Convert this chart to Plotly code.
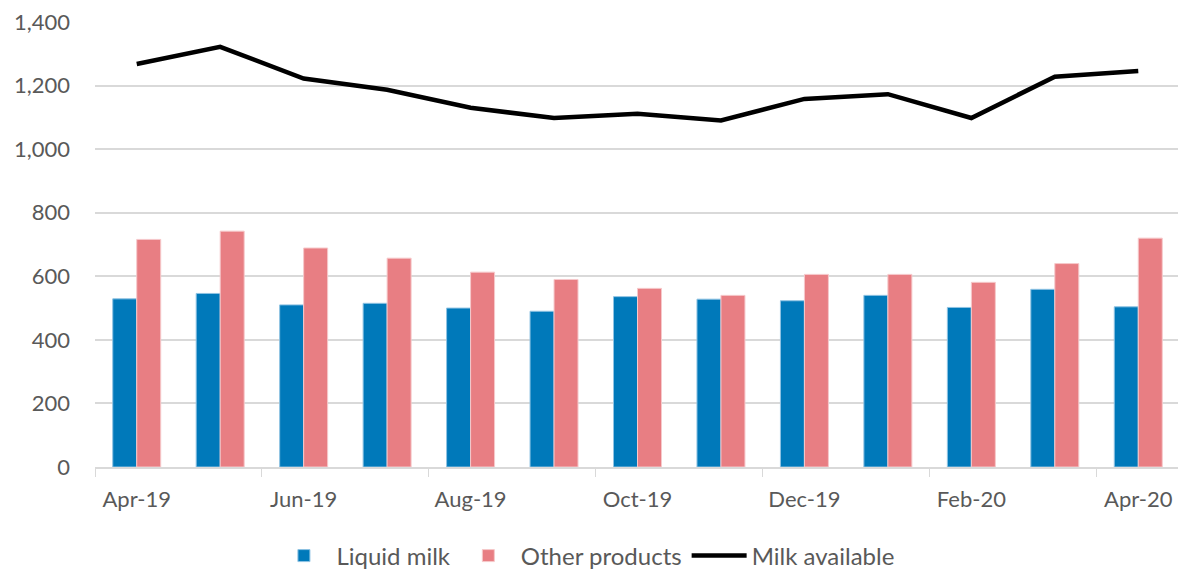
import plotly.graph_objects as go

months = ["Apr-19", "May-19", "Jun-19", "Jul-19", "Aug-19", "Sep-19", "Oct-19",
          "Nov-19", "Dec-19", "Jan-20", "Feb-20", "Mar-20", "Apr-20"]
liquid_milk = [529, 546, 510, 515, 500, 490, 536, 528, 523, 540, 502, 559, 504]
other_products = [716, 742, 689, 657, 613, 590, 562, 540, 606, 606, 581, 640, 720]
milk_available = [1268, 1322, 1222, 1187, 1130, 1098, 1111, 1090, 1158, 1173, 1098, 1228, 1246]

FONT = "Lato, 'Open Sans', sans-serif"
GREY = "#595959"
FS = 22

fig = go.Figure()
fig.add_trace(go.Bar(x=months, y=liquid_milk, name="Liquid milk",
                     marker=dict(color="#0079BA", line=dict(color="#8fc3e3", width=1))))
fig.add_trace(go.Bar(x=months, y=other_products, name="Other products",
                     marker=dict(color="#E87E83", line=dict(color="#f6c9cb", width=1))))
fig.add_trace(go.Scatter(x=months, y=milk_available, name="Milk available", mode="lines",
                         line=dict(color="black", width=4.5)))

# page has an 8px body margin, so the figure is sized to the visible area
fig.update_layout(
    width=1178, height=563,
    margin=dict(l=87, r=6, t=14, b=104, autoexpand=False),
    plot_bgcolor="white", paper_bgcolor="white",
    barmode="group", bargap=0.425, bargroupgap=0,
    font=dict(family=FONT, size=FS, color=GREY),
    legend=dict(orientation="h", x=0.452, xanchor="center", y=-0.2, yanchor="middle",
                font=dict(family=FONT, size=24, color=GREY), itemwidth=55,
                traceorder="normal"),
    showlegend=True,
)
fig.update_xaxes(type="category", dtick=2, tickson="boundaries", ticks="outside",
                 ticklen=8, tickcolor="#d9d9d9", showline=True, linecolor="#d9d9d9",
                 linewidth=1.5, showgrid=False, automargin=False, ticklabelstandoff=12,
                 ticklabeloverflow="allow",
                 tickfont=dict(family=FONT, size=FS, color=GREY))
fig.update_yaxes(range=[0, 1400], dtick=200, tickformat=",", showgrid=True,
                 gridcolor="#d9d9d9", gridwidth=1.5, zeroline=False, showline=False,
                 ticks="", ticklabelstandoff=24, automargin=False,
                 ticklabeloverflow="allow",
                 tickfont=dict(family=FONT, size=FS, color=GREY))

fig.write_html("out.html")
